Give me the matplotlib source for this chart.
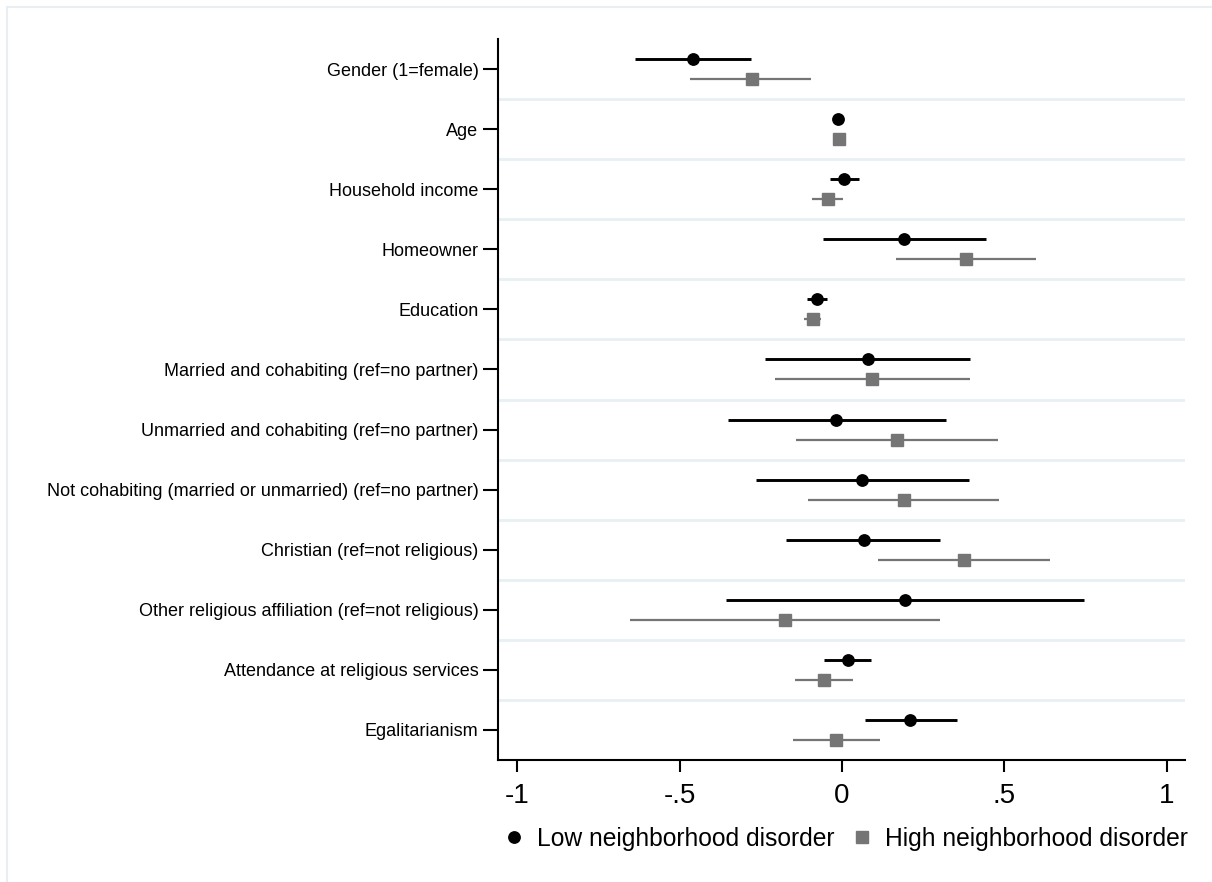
import matplotlib
matplotlib.use("Agg")
import matplotlib.pyplot as plt
from matplotlib.lines import Line2D
from matplotlib.patches import Rectangle

plt.rcParams['font.family'] = ['Liberation Sans', 'DejaVu Sans']

labels = [
    "Gender (1=female)",
    "Age",
    "Household income",
    "Homeowner",
    "Education",
    "Married and cohabiting (ref=no partner)",
    "Unmarried and cohabiting (ref=no partner)",
    "Not cohabiting (married or unmarried) (ref=no partner)",
    "Christian (ref=not religious)",
    "Other religious affiliation (ref=not religious)",
    "Attendance at religious services",
    "Egalitarianism",
]

low_est = [-0.459, -0.013, 0.007, 0.191, -0.078, 0.081, -0.018, 0.061, 0.067, 0.193, 0.018, 0.210]
low_lo  = [-0.639, -0.018, -0.037, -0.059, -0.109, -0.236, -0.352, -0.266, -0.172, -0.358, -0.056, 0.071]
low_hi  = [-0.280, -0.008, 0.051, 0.443, -0.047, 0.395, 0.321, 0.391, 0.302, 0.747, 0.090, 0.355]

high_est = [-0.277, -0.010, -0.044, 0.382, -0.088, 0.094, 0.170, 0.191, 0.377, -0.176, -0.056, -0.018]
high_lo  = [-0.468, -0.012, -0.091, 0.167, -0.117, -0.206, -0.143, -0.105, 0.112, -0.653, -0.146, -0.151]
high_hi  = [-0.094, -0.008, 0.002, 0.599, -0.064, 0.395, 0.482, 0.485, 0.640, 0.302, 0.033, 0.118]

xticks = [-1, -0.5, 0, 0.5, 1]
xticklabels = ["-1", "-.5", "0", ".5", "1"]

series_names = ["Low neighborhood disorder", "High neighborhood disorder"]

W, H = 1212, 882
fig = plt.figure(figsize=(W / 100, H / 100), dpi=100)
fig.patch.set_facecolor("white")

# light outer frame (only left/top visible)
fig.add_artist(Rectangle((7 / W, -0.1), 1.2, 1 - 7 / H + 0.1, transform=fig.transFigure,
                         fill=False, edgecolor="#e8eef1", linewidth=1.5))

left, right, top, bottom = 498, 1185, 39, 760
ax = fig.add_axes([left / W, 1 - bottom / H, (right - left) / W, (bottom - top) / H])

n = len(labels)
off = 1 / 6
grey = "#757575"
ys = list(range(n))
y_low = [y - off for y in ys]
y_high = [y + off for y in ys]

for i in range(n - 1):
    ax.axhline(i + 0.5, color="#e8f0f3", linewidth=2.0, zorder=0)

ax.hlines(y_low, low_lo, low_hi, color="black", linewidth=2.1, zorder=2)
ax.plot(low_est, y_low, "o", color="black", markersize=8.2, zorder=3)
ax.hlines(y_high, high_lo, high_hi, color=grey, linewidth=1.6, zorder=2)
ax.plot(high_est, y_high, "s", color=grey, markersize=8.0, zorder=3)

ax.set_ylim(n - 0.5, -0.5)
ax.set_xlim(-1.06, 1.057)
ax.set_yticks(ys)
ax.set_yticklabels(labels, fontsize=13)
ax.set_xticks(xticks)
ax.set_xticklabels(xticklabels, fontsize=20)

for s in ["top", "right"]:
    ax.spines[s].set_visible(False)
for s in ["left", "bottom"]:
    ax.spines[s].set_linewidth(1.5)
    ax.spines[s].set_color("black")

ax.tick_params(axis="y", length=11, width=1.5, pad=3)
ax.tick_params(axis="x", length=8.5, width=1.5, pad=8)

handles = [
    Line2D([], [], marker="o", color="black", linestyle="none", markersize=8.2),
    Line2D([], [], marker="s", color=grey, linestyle="none", markersize=8.0),
]
fig.legend(handles, series_names, loc="center", ncol=2, frameon=False, fontsize=17.7,
           bbox_to_anchor=((505 + 1187) / 2 / W, 1 - 839 / H),
           handlelength=0.8, handletextpad=0.55, columnspacing=0.7)

fig.savefig("out.png", dpi=100, facecolor="white")
